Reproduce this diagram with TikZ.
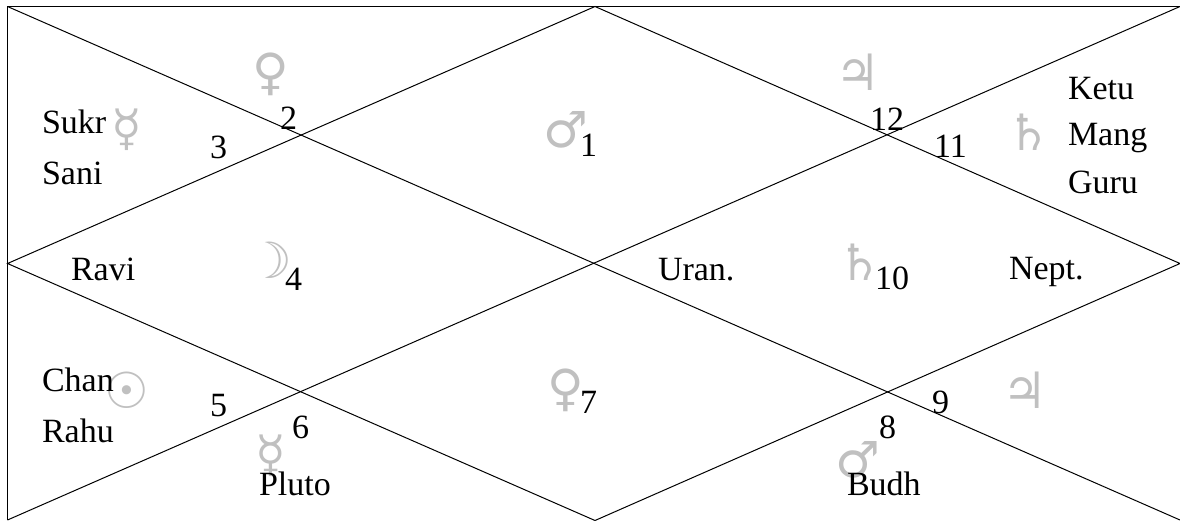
\documentclass[tikz,border=0pt]{standalone}
\usepackage{fontspec}
\setmainfont{Liberation Serif}
\newfontfamily\symfont{DejaVu Sans}
\tikzset{
  x=1pt,y=-1pt,
  lbl/.style={anchor=base west,inner sep=0pt,outer sep=0pt,font=\fontsize{34}{40}\selectfont,text=black},
  sym/.style={anchor=center,inner sep=0pt,outer sep=0pt,font=\symfont\fontsize{50}{56}\selectfont,text=symgray},
  rule/.style={draw=black,line width=1pt}
}
\definecolor{symgray}{RGB}{192,192,192}
\begin{document}
\begin{tikzpicture}
\useasboundingbox (0,0) rectangle (1180,520);
\begin{scope}
\clip (0,0) rectangle (1180,520);
\coordinate (tl) at (7.5,6.5);
\coordinate (tr) at (1180,6.5);
\coordinate (bl) at (7.5,520);
\coordinate (br) at (1180,520);
\coordinate (tm) at (595,6.5);
\coordinate (lm) at (7.5,263.5);
\coordinate (rm) at (1180,263.5);
\coordinate (bm) at (595,520.5);
\draw[rule] (bl) -- (tl) -- (tr);
\draw[rule] (tl) -- (br);
\draw[rule] (bl) -- (tr);
\draw[rule] (tm) -- (lm) -- (bm) -- (rm) -- cycle;
\node[sym] (s1) at (271,74) {♀};
\node[sym] (s2) at (127,130) {☿};
\node[sym] (s3) at (270,260) {☽};
\node[sym] (s4) at (566,130) {♂};
\node[sym] (s5) at (858,72) {♃};
\node[sym] (s6) at (1029,132) {♄};
\node[sym] (s7) at (860,262) {♄};
\node[sym] (s8) at (127,390) {☉};
\node[sym] (s9) at (271,456) {☿};
\node[sym] (s10) at (566,390) {♀};
\node[sym] (s11) at (858,460) {♂};
\node[sym] (s12) at (1025,390) {♃};
\node[lbl] (sukr) at (42,133) {Sukr};
\node[lbl] (sani) at (42,184) {Sani};
\node[lbl] (ravi) at (71,280) {Ravi};
\node[lbl] (chan) at (42,391) {Chan};
\node[lbl] (rahu) at (42,442) {Rahu};
\node[lbl] (pluto) at (259,495) {Pluto};
\node[lbl] (budh) at (847,495) {Budh};
\node[lbl] (uran) at (658,280) {Uran.};
\node[lbl] (nept) at (1009,279) {Nept.};
\node[lbl] (ketu) at (1068,99) {Ketu};
\node[lbl] (mang) at (1068,145) {Mang};
\node[lbl] (guru) at (1068,193) {Guru};
\node[lbl] (n1) at (580,156) {1};
\node[lbl] (n2) at (280,129) {2};
\node[lbl] (n3) at (210,158) {3};
\node[lbl] (n4) at (285,290) {4};
\node[lbl] (n5) at (210,416) {5};
\node[lbl] (n6) at (292,438) {6};
\node[lbl] (n7) at (580,413) {7};
\node[lbl] (n8) at (879,438) {8};
\node[lbl] (n9) at (932,413) {9};
\node[lbl] (n10) at (875,289) {10};
\node[lbl] (n11) at (934,157) {11};
\node[lbl] (n12) at (870,130) {12};
\end{scope}
\end{tikzpicture}
\end{document}
